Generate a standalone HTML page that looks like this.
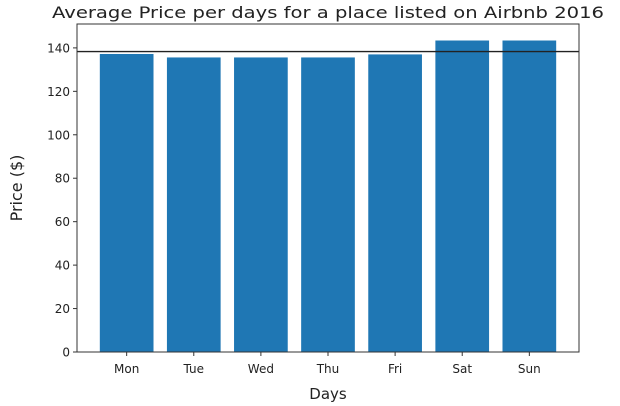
<!DOCTYPE html>
<html><head><meta charset="utf-8"><style>
body{margin:0;background:#fff;}
svg{display:block;font-family:"DejaVu Sans","Liberation Sans",sans-serif;}
</style></head><body>
<svg id="chart" width="620" height="406">
<rect width="620" height="406" fill="#fff"/>
<text x="328" y="18" text-anchor="middle" font-size="16" fill="#222" textLength="552" lengthAdjust="spacingAndGlyphs">Average Price per days for a place listed on Airbnb 2016</text>
<text transform="translate(22,188) rotate(-90)" text-anchor="middle" font-size="16" fill="#222">Price ($)</text>
<text x="328" y="399" text-anchor="middle" font-size="15" fill="#222">Days</text>
<g id="bars"></g><g id="axes"></g>
</svg>
<script>
const categories=["Mon","Tue","Wed","Thu","Fri","Sat","Sun"];
const prices=[137.2,135.6,135.6,135.6,137.0,143.4,143.4];
const meanPrice=[138.3];
const yTicks=[0,20,40,60,80,100,120,140];
const L=77,R=579,T=24,B=352,yMax=151;
const xs=i=>L+(i+0.74)*(R-L)/(categories.length-1+1.48);
const ys=v=>B-v*(B-T)/yMax;
const NS="http://www.w3.org/2000/svg";
const bars=document.getElementById('bars'),axes=document.getElementById('axes');
function mk(tag,attrs,parent){const e=document.createElementNS(NS,tag);for(const k in attrs)e.setAttribute(k,attrs[k]);parent.appendChild(e);return e;}
const step=(R-L)/(categories.length-1+1.48);
categories.forEach((c,i)=>{
  const r=mk('rect',{x:xs(i)-0.4*step,y:ys(prices[i]),width:0.8*step,height:B-ys(prices[i]),fill:'#1f77b4'},bars);
  
  
  mk('line',{x1:xs(i),x2:xs(i),y1:B,y2:B+4,stroke:'#333','stroke-width':1},axes);
  const t=mk('text',{x:xs(i),y:B+21,'text-anchor':'middle','font-size':12,fill:'#222'},axes);
  t.textContent=c;
  
  
});
yTicks.forEach(v=>{
  mk('line',{x1:L-4,x2:L,y1:ys(v),y2:ys(v),stroke:'#333','stroke-width':1},axes);
  const t=mk('text',{x:L-7,y:ys(v)+4.5,'text-anchor':'end','font-size':12,fill:'#222'},axes);
  t.textContent=v;
  
  
});
const ml=mk('line',{x1:L,x2:R,y1:ys(meanPrice[0]),y2:ys(meanPrice[0]),stroke:'#222','stroke-width':1.3},axes);


const fr=mk('rect',{x:L,y:T,width:R-L,height:B-T,fill:'none',stroke:'#333','stroke-width':1},axes);


</script>
</body></html>
